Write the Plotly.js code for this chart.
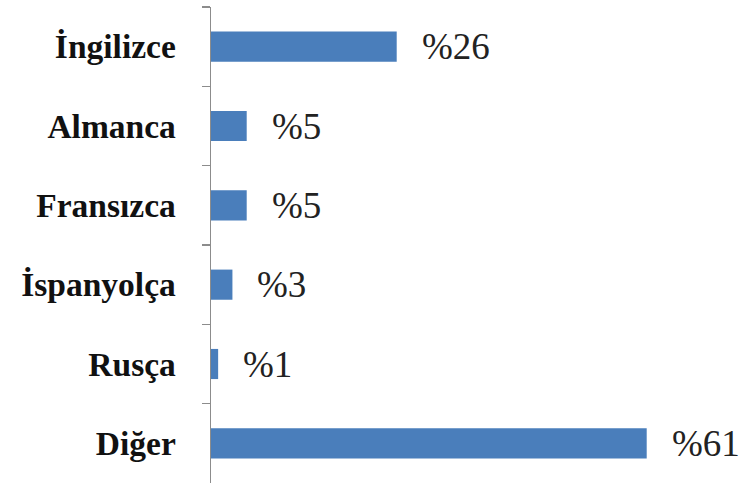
<!DOCTYPE html>
<html>
<head>
<meta charset="utf-8">
<script src="https://cdn.plot.ly/plotly-3.0.1.min.js"></script>
<style>
  html, body { margin: 0; padding: 0; background: #fff; }
</style>
</head>
<body>
<div id="chart" style="width:744px;height:486px"></div>
<script>
// Language shares (percent), listed top to bottom
const languages = ['İngilizce', 'Almanca', 'Fransızca', 'İspanyolça', 'Rusça', 'Diğer'];
const shares = [26, 5, 5, 3, 1, 61];
const labelPrefix = '%';

const serifFamily = 'Liberation Serif';

const barTrace = {
  type: 'bar',
  orientation: 'h',
  x: shares,
  y: languages,
  marker: { color: '#4a7ebb' },
  hoverinfo: 'skip'
};

// Value labels placed just past the end of each bar
const valueLabels = languages.map((lang, i) => ({
  x: shares[i],
  y: lang,
  xref: 'x',
  yref: 'y',
  text: labelPrefix + shares[i],
  showarrow: false,
  xanchor: 'left',
  yanchor: 'middle',
  xshift: 23,
  font: { family: serifFamily, size: 37, color: '#222222' }
}));

const layout = {
  width: 744,
  height: 486,
  margin: { l: 211, r: 33, t: 7, b: 3 },
  paper_bgcolor: '#ffffff',
  plot_bgcolor: '#ffffff',
  showlegend: false,
  bargap: 0.62,
  font: { family: serifFamily, size: 32 },
  xaxis: {
    range: [0, 70],
    visible: false,
    showgrid: false,
    zeroline: false
  },
  yaxis: {
    type: 'category',
    categoryorder: 'array',
    categoryarray: languages,
    autorange: 'reversed',
    showline: true,
    linecolor: '#8c8c8c',
    linewidth: 1.5,
    ticks: 'outside',
    tickson: 'boundaries',
    ticklen: 8,
    tickcolor: '#8c8c8c',
    tickwidth: 1.2,
    ticklabelstandoff: 27,
    showgrid: false,
    zeroline: false,
    tickfont: { family: serifFamily, size: 33.5, color: '#111111', weight: 'bold' }
  },
  annotations: valueLabels
};

Plotly.newPlot('chart', [barTrace], layout, { displayModeBar: false, staticPlot: true });
</script>
</body>
</html>
